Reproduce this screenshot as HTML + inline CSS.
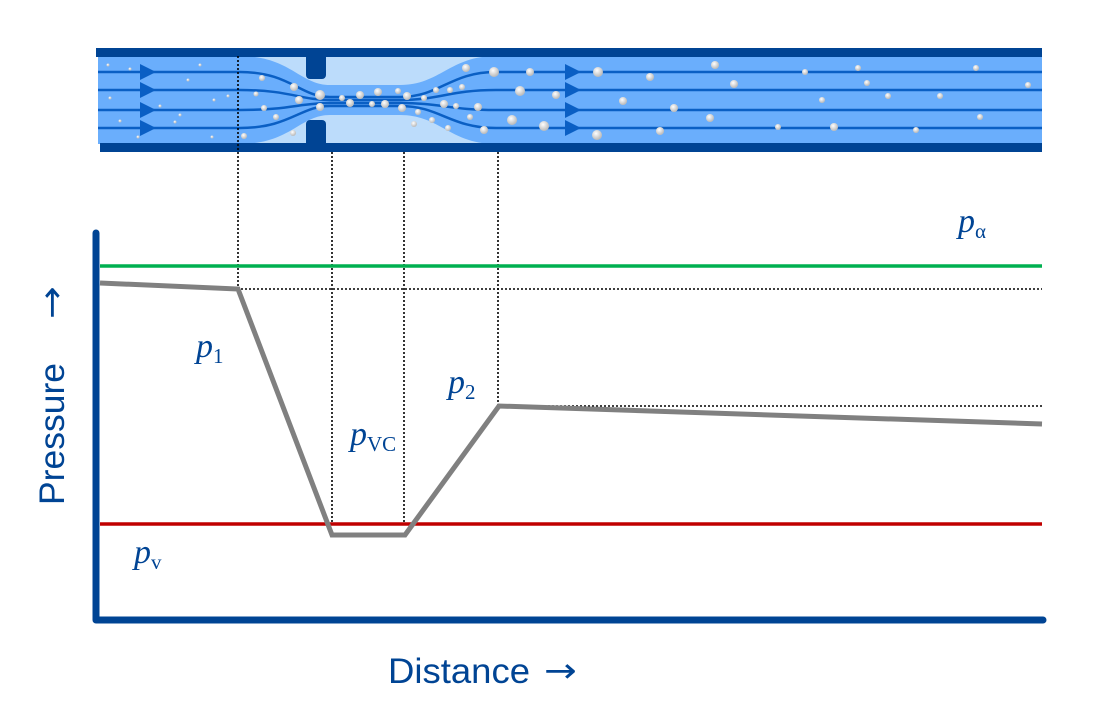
<!DOCTYPE html>
<html><head><meta charset="utf-8"><style>
html,body{margin:0;padding:0;background:#fff;width:1104px;height:722px;overflow:hidden}
svg{display:block}
.lbl{font-family:"Liberation Serif",serif;font-style:italic;fill:#004494;font-size:34px}
.sub{font-style:normal;font-size:21px}
</style></head><body>
<svg width="1104" height="722" viewBox="0 0 1104 722" xmlns="http://www.w3.org/2000/svg">
<defs>
<radialGradient id="b" cx="40%" cy="35%" r="60%"><stop offset="0" stop-color="#fff"/><stop offset="1" stop-color="#bdbdbd"/></radialGradient>
</defs>
<rect x="98" y="56" width="944" height="88" fill="#6aaefc"/>
<path d="M240 56 C290 56 300 85 330 85 L400 85 C440 85 450 56 496 56 Z" fill="#bcdcfb"/>
<path d="M240 144 C290 144 300 115 330 115 L400 115 C440 115 450 144 496 144 Z" fill="#bcdcfb"/>
<rect x="96" y="48" width="946" height="9" fill="#004494"/>
<rect x="100" y="143" width="942" height="9" fill="#004494"/>
<rect x="306" y="52" width="20" height="27" rx="4" fill="#004494"/>
<rect x="306" y="120" width="20" height="27" rx="4" fill="#004494"/>
<g stroke="#0a5fc4" stroke-width="2.5" fill="none">
<path d="M98 72 L240 72 C290 72 300 97 330 97 L400 97 C440 97 450 72 496 72 L1042 72"/>
<path d="M98 90 L240 90 C290 90 300 100 330 100 L400 100 C440 100 450 90 496 90 L1042 90"/>
<path d="M98 110 L240 110 C290 110 300 103 330 103 L400 103 C440 103 450 110 496 110 L1042 110"/>
<path d="M98 128 L240 128 C290 128 300 106 330 106 L400 106 C440 106 450 128 496 128 L1042 128"/>
</g>
<g fill="#0a5fc4">
<path d="M140 64 L156 72 L140 80Z"/><path d="M140 82 L156 90 L140 98Z"/><path d="M140 102 L156 110 L140 118Z"/><path d="M140 120 L156 128 L140 136Z"/>
<path d="M565 64 L581 72 L565 80Z"/><path d="M565 82 L581 90 L565 98Z"/><path d="M565 102 L581 110 L565 118Z"/><path d="M565 120 L581 128 L565 136Z"/>
</g>
<g fill="url(#b)">
<circle cx="108" cy="65" r="1.5"/><circle cx="130" cy="69" r="1.5"/><circle cx="110" cy="98" r="1.5"/><circle cx="120" cy="121" r="1.5"/><circle cx="175" cy="122" r="1.5"/><circle cx="200" cy="65" r="1.5"/><circle cx="214" cy="100" r="1.5"/><circle cx="228" cy="96" r="1.5"/><circle cx="180" cy="115" r="1.5"/><circle cx="138" cy="137" r="1.5"/><circle cx="160" cy="106" r="1.5"/><circle cx="188" cy="80" r="1.5"/><circle cx="212" cy="137" r="1.5"/>
<circle cx="244" cy="136" r="3"/><circle cx="262" cy="78" r="3"/><circle cx="256" cy="94" r="2.5"/><circle cx="264" cy="108" r="3"/><circle cx="276" cy="117" r="3"/><circle cx="294" cy="87" r="4"/><circle cx="299" cy="100" r="4"/><circle cx="293" cy="133" r="3"/><circle cx="320" cy="95" r="5"/><circle cx="320" cy="107" r="4"/><circle cx="342" cy="98" r="3"/><circle cx="350" cy="103" r="4"/><circle cx="360" cy="95" r="4"/><circle cx="372" cy="104" r="3"/><circle cx="378" cy="92" r="4"/><circle cx="385" cy="104" r="4"/><circle cx="398" cy="91" r="3"/><circle cx="407" cy="96" r="4"/><circle cx="402" cy="108" r="4"/><circle cx="418" cy="112" r="3"/><circle cx="424" cy="98" r="3"/><circle cx="436" cy="90" r="3"/><circle cx="432" cy="120" r="3"/><circle cx="444" cy="104" r="4"/><circle cx="450" cy="90" r="3"/><circle cx="456" cy="106" r="3"/><circle cx="462" cy="87" r="3"/><circle cx="466" cy="68" r="4"/><circle cx="470" cy="117" r="3"/><circle cx="478" cy="107" r="4"/><circle cx="484" cy="130" r="4"/><circle cx="494" cy="72" r="5"/><circle cx="448" cy="128" r="3"/><circle cx="414" cy="124" r="3"/>
<circle cx="520" cy="91" r="5"/><circle cx="512" cy="120" r="5"/><circle cx="544" cy="126" r="5"/><circle cx="530" cy="72" r="4"/><circle cx="598" cy="72" r="5"/><circle cx="556" cy="95" r="4"/><circle cx="623" cy="101" r="4"/><circle cx="597" cy="135" r="5"/><circle cx="650" cy="77" r="4"/><circle cx="674" cy="108" r="4"/><circle cx="710" cy="118" r="4"/><circle cx="660" cy="131" r="4"/><circle cx="734" cy="84" r="4"/><circle cx="715" cy="65" r="4"/><circle cx="805" cy="72" r="3"/><circle cx="822" cy="100" r="3"/><circle cx="778" cy="127" r="3"/><circle cx="834" cy="127" r="4"/><circle cx="858" cy="68" r="3"/><circle cx="867" cy="83" r="3"/><circle cx="888" cy="96" r="3"/><circle cx="916" cy="130" r="3"/><circle cx="940" cy="96" r="3"/><circle cx="976" cy="68" r="3"/><circle cx="980" cy="117" r="3"/><circle cx="1028" cy="85" r="3"/>
</g>
<g stroke="#000" stroke-width="1.6" stroke-dasharray="2 2" fill="none">
<path d="M238 56 V289 H1042"/><path d="M332 152 V524"/><path d="M404 152 V524"/><path d="M498 152 V406 H1042"/>
</g>
<line x1="100" y1="266" x2="1042" y2="266" stroke="#00b050" stroke-width="3.5"/>
<line x1="100" y1="524" x2="1042" y2="524" stroke="#c00000" stroke-width="3.5"/>
<polyline points="100,283 238,289 332,535 405,535 499,406 1042,424" fill="none" stroke="#808080" stroke-width="5"/>
<path d="M96 233 V620 H1043" fill="none" stroke="#004494" stroke-width="7" stroke-linecap="round" stroke-linejoin="round"/>
<text class="lbl" x="958" y="232">p<tspan class="sub" dy="6" font-style="italic">α</tspan></text>
<text class="lbl" x="196" y="357">p<tspan class="sub" dy="6">1</tspan></text>
<text class="lbl" x="448" y="393">p<tspan class="sub" dy="6">2</tspan></text>
<text class="lbl" x="350" y="445">p<tspan class="sub" dy="6">VC</tspan></text>
<text class="lbl" x="134" y="563">p<tspan class="sub" dy="6">v</tspan></text>
<text x="388" y="683" textLength="142" lengthAdjust="spacingAndGlyphs" font-family="Liberation Sans,sans-serif" font-size="35" fill="#004494">Distance</text>
<text transform="translate(544,682) scale(1.15,1)" font-family="DejaVu Sans,sans-serif" font-size="34" fill="#004494">→</text>
<text transform="translate(64,505) rotate(-90)" textLength="142" lengthAdjust="spacingAndGlyphs" font-family="Liberation Sans,sans-serif" font-size="35" fill="#004494">Pressure</text>
<text transform="translate(63,319) rotate(-90) scale(1.15,1)" font-family="DejaVu Sans,sans-serif" font-size="34" fill="#004494">→</text>
</svg>
</body></html>
